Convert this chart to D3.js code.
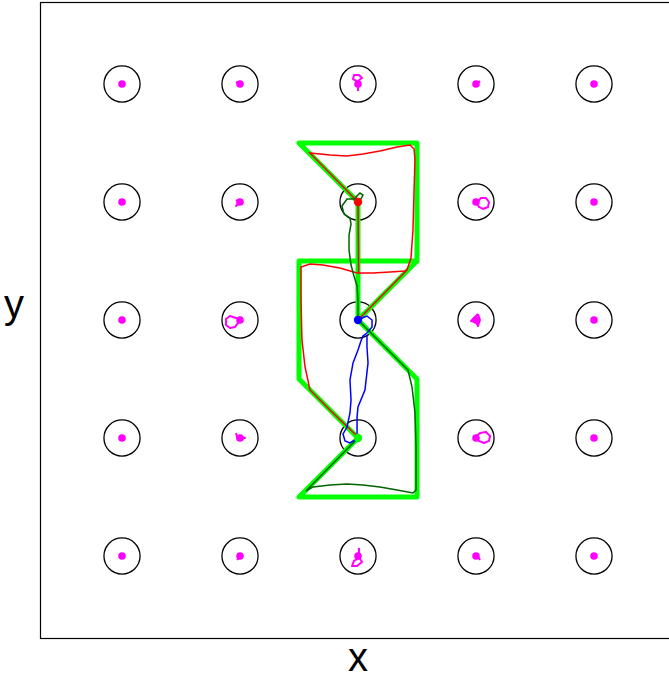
<!DOCTYPE html>
<html>
<head>
<meta charset="utf-8">
<script src="https://cdn.jsdelivr.net/npm/d3@7"></script>
<style>
  body { margin: 0; background: #fff; }
  svg { display: block; }
  .lbl { font-family: "Liberation Sans", Arial, sans-serif; font-size: 40px; fill: #000; }
</style>
</head>
<body>
<div id="chart"></div>
<script>
// grid of agent home positions (grid units)
var gridX = [-2, -1, 0, 1, 2];
var gridY = [2, 1, 0, -1, -2];
var robotCells = [[0, 1], [0, 0], [0, -1]];

// reference route (thick green)
var refPath = [[0, 0], [0, 1], [-0.5, 1.5], [0.5, 1.5], [0.5, 0.5], [-0.5, 0.5], [-0.5, -0.5],
  [0, -1], [-0.5, -1.5], [0.5, -1.5], [0.5, -0.5], [0, 0], [0.5, 0.5]];

// red robot track, drawn in pieces
var redTrack = [
  [[0.01, 0.01], [0.415, 0.424]],
  [[0.415, 0.424], [0.398, 0.415], [0.271, 0.407], [0.127, 0.398], [-0.008, 0.398], [-0.153, 0.441],
    [-0.297, 0.466], [-0.407, 0.475], [-0.483, 0.449], [-0.483, 0.169], [-0.475, -0.169],
    [-0.449, -0.398], [-0.407, -0.593], [-0.212, -0.788], [-0.017, -0.975]],
  [[0.415, 0.424], [0.449, 0.525], [0.466, 0.763], [0.475, 1.102], [0.483, 1.356], [0.475, 1.449],
    [0.441, 1.483], [0.331, 1.466], [0.186, 1.432], [0.042, 1.407], [-0.093, 1.390], [-0.237, 1.398],
    [-0.407, 1.415], [0, 1]],
  [[0, 1], [0.005, 0.40]]
];

// dark green robot track
var greenTrack = [[0, 0.992], [-0.017, 1.042], [0.017, 1.076], [0.042, 1.059], [0.025, 1.025],
  [-0.034, 1.025], [-0.093, 1.025], [-0.136, 0.966], [-0.119, 0.898], [-0.068, 0.864], [-0.059, 0.814],
  [-0.076, 0.720], [-0.076, 0.593], [-0.059, 0.466], [-0.034, 0.373], [-0.008, 0.288], [0, 0.169],
  [0, 0], [0.220, -0.220], [0.424, -0.424], [0.458, -0.568], [0.483, -0.788], [0.492, -1.076],
  [0.492, -1.441], [0.466, -1.466], [0.331, -1.441], [0.186, -1.415], [0.042, -1.398], [-0.093, -1.390],
  [-0.237, -1.398], [-0.381, -1.415], [-0.441, -1.449], [0, -1]];

// blue robot track
var blueTrack = [[0, 0], [0.034, 0.017], [0.076, 0.034], [0.119, 0], [0.119, -0.059], [0.076, -0.110],
  [0.042, -0.136], [0.025, -0.178], [0, -0.254], [-0.042, -0.364], [-0.068, -0.508], [-0.059, -0.678],
  [-0.068, -0.788], [-0.093, -0.907], [-0.127, -0.966], [-0.110, -1.025], [-0.068, -1.042],
  [-0.025, -1.017], [-0.008, -0.966], [-0.008, -0.822], [0, -0.737], [0.059, -0.593], [0.085, -0.364],
  [0.076, -0.229], [0.076, -0.127]];

var robotColors = ["#ff0000", "#0000ff", "#00ff00"];

// small wiggles of the magenta agents, offsets from their cell
var agentTracks = [
  { cell: [-1, 2], pts: [[-0.034, 0.017], [0, 0]] },
  { cell: [-1, 1], pts: [[-0.034, 0.017], [-0.008, 0], [-0.034, -0.034], [0, -0.01]] },
  { cell: [-1, 0], pts: [[0.017, 0], [-0.034, 0.017], [-0.085, 0.034], [-0.119, 0.008], [-0.119, -0.042],
    [-0.085, -0.068], [-0.042, -0.059], [-0.017, -0.025], [0.017, 0]] },
  { cell: [-1, -1], pts: [[-0.034, 0.042], [-0.017, -0.017], [0.042, 0], [-0.017, 0.017]] },
  { cell: [-1, -2], pts: [[-0.025, -0.034], [0.008, 0.008]] },
  { cell: [0, 2], pts: [[0, -0.059], [0, -0.017], [-0.008, 0.025], [-0.042, 0.042], [-0.034, 0.076],
    [0.008, 0.076], [0.034, 0.051], [0, 0.025]] },
  { cell: [0, -2], pts: [[0.008, 0.068], [0.008, -0.008], [0.034, -0.051], [-0.008, -0.085],
    [-0.051, -0.085], [-0.034, -0.042], [0.008, -0.017]] },
  { cell: [1, 2], pts: [[0, -0.008], [0.034, 0.025]] },
  { cell: [1, 1], pts: [[0.008, -0.008], [0.042, 0.034], [0.085, 0.034], [0.110, 0], [0.102, -0.042],
    [0.059, -0.059], [0.025, -0.042], [0.008, -0.008]] },
  { cell: [1, 0], pts: [[0.017, 0.051], [-0.017, 0.017], [-0.042, -0.008], [0, -0.017], [0.017, -0.051],
    [0.034, 0], [0.017, 0.051]] },
  { cell: [1, -1], pts: [[-0.008, 0.008], [0.034, 0.042], [0.085, 0.051], [0.119, 0.017], [0.110, -0.025],
    [0.068, -0.042], [0.025, -0.025], [-0.008, 0.008]] },
  { cell: [1, -2], pts: [[0.008, 0.008], [0.034, -0.034]] }
];

var svgWidth = 669;
var svgHeight = 681;
var margin = { top: 2, left: 40 };
var size = 636;
var lim = 2.695;
var ringR = 0.153;

var svg = d3.select("#chart").append("svg")
  .attr("width", svgWidth)
  .attr("height", svgHeight);

var x = d3.scaleLinear().domain([-lim, lim]).range([margin.left, margin.left + size]);
var y = d3.scaleLinear().domain([-lim, lim]).range([margin.top + size, margin.top]);

var line = d3.line().x(d => x(d[0])).y(d => y(d[1]));

// frame
svg.append("rect")
  .attr("x", x(-lim) + 0.5)
  .attr("y", y(lim) + 0.5)
  .attr("width", size)
  .attr("height", size)
  .attr("fill", "none")
  .attr("stroke", "#000")
  .attr("stroke-width", 1.2);

// cells
var cells = [];
gridY.forEach(function(gy) {
  gridX.forEach(function(gx) { cells.push([gx, gy]); });
});

svg.selectAll(".ring")
  .data(cells)
  .enter()
  .append("circle")
  .attr("class", "ring")
  .attr("cx", d => x(d[0]))
  .attr("cy", d => y(d[1]))
  .attr("r", x(ringR) - x(0))
  .attr("fill", "none")
  .attr("stroke", "#000")
  .attr("stroke-width", 1.3);

// reference route
svg.append("path")
  .attr("d", line(refPath))
  .attr("fill", "none")
  .attr("stroke", "#00ff00")
  .attr("stroke-width", 5)
  .attr("stroke-linejoin", "round")
  .attr("stroke-linecap", "round");

// robot tracks
svg.selectAll(".red")
  .data(redTrack)
  .enter()
  .append("path")
  .attr("d", line)
  .attr("fill", "none")
  .attr("stroke", "#ff0000")
  .attr("stroke-width", 1.5);

svg.append("path")
  .attr("d", line(greenTrack))
  .attr("fill", "none")
  .attr("stroke", "#006400")
  .attr("stroke-width", 1.5);

svg.append("path")
  .attr("d", line(blueTrack))
  .attr("fill", "none")
  .attr("stroke", "#0000ff")
  .attr("stroke-width", 1.5);

// magenta agents
var agents = cells.filter(function(c) {
  return !robotCells.some(r => r[0] === c[0] && r[1] === c[1]);
});

svg.selectAll(".atrack")
  .data(agentTracks)
  .enter()
  .append("path")
  .attr("d", d => line(d.pts.map(p => [d.cell[0] + p[0], d.cell[1] + p[1]])))
  .attr("fill", "none")
  .attr("stroke", "#ff00ff")
  .attr("stroke-width", 2)
  .attr("stroke-linejoin", "round");

svg.selectAll(".agent")
  .data(agents)
  .enter()
  .append("circle")
  .attr("cx", d => x(d[0]))
  .attr("cy", d => y(d[1]))
  .attr("r", 3.8)
  .attr("fill", "#ff00ff");

// robot end positions
svg.selectAll(".robot")
  .data(robotCells)
  .enter()
  .append("circle")
  .attr("cx", d => x(d[0]))
  .attr("cy", d => y(d[1]))
  .attr("r", 4.2)
  .attr("fill", (d, i) => robotColors[i]);

// axis labels
svg.append("text")
  .attr("class", "lbl")
  .attr("x", x(0))
  .attr("y", 671)
  .attr("text-anchor", "middle")
  .text("x");

svg.append("text")
  .attr("class", "lbl")
  .attr("x", 14)
  .attr("y", 318)
  .attr("text-anchor", "middle")
  .text("y");
</script>
</body>
</html>
